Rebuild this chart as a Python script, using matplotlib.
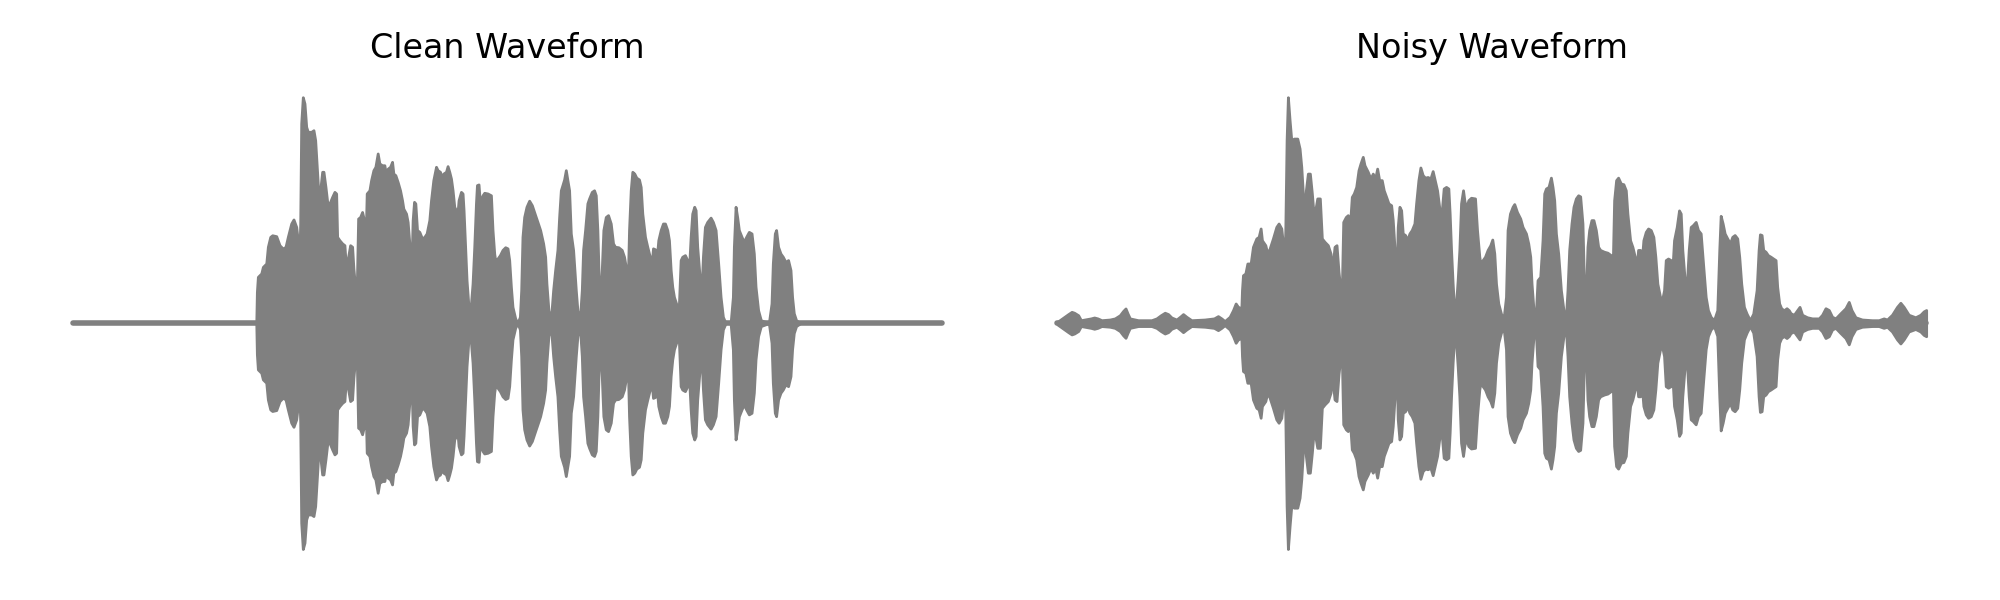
import numpy as np
import matplotlib
matplotlib.use("Agg")
import matplotlib.pyplot as plt

# envelope of each waveform: (time in s, peak amplitude)
clean_env = [
    (0.0, 0), (1.837, 0), (1.843, 0.138), (1.853, 0.205), (1.887, 0.220), (1.903, 0.249),
    (1.937, 0.264), (1.953, 0.338), (1.977, 0.382), (1.997, 0.389), (2.037, 0.385), (2.07, 0.345),
    (2.103, 0.330), (2.13, 0.338), (2.153, 0.382), (2.187, 0.441), (2.21, 0.459), (2.237, 0.426),
    (2.253, 0.367), (2.263, 0.212), (2.277, 0.441), (2.287, 0.884), (2.303, 1.0), (2.32, 0.972),
    (2.337, 0.869), (2.353, 0.847), (2.387, 0.847), (2.41, 0.854), (2.427, 0.810), (2.437, 0.736),
    (2.453, 0.618), (2.463, 0.500), (2.477, 0.588), (2.497, 0.670), (2.51, 0.670), (2.53, 0.603),
    (2.553, 0.515), (2.57, 0.530), (2.597, 0.559), (2.62, 0.581), (2.637, 0.574), (2.647, 0.382),
    (2.67, 0.367), (2.697, 0.353), (2.72, 0.345), (2.737, 0.235), (2.757, 0.294), (2.777, 0.345),
    (2.797, 0.338), (2.81, 0.242), (2.83, 0.146), (2.843, 0.146), (2.857, 0.463), (2.877, 0.470),
    (2.897, 0.492), (2.92, 0.448), (2.937, 0.463), (2.943, 0.574), (2.97, 0.588), (2.987, 0.633),
    (3.01, 0.677), (3.03, 0.692), (3.053, 0.751), (3.07, 0.707), (3.097, 0.699), (3.12, 0.699),
    (3.137, 0.655), (3.153, 0.684), (3.177, 0.692), (3.197, 0.714), (3.21, 0.662), (3.23, 0.655),
    (3.253, 0.625), (3.277, 0.588), (3.297, 0.544), (3.31, 0.507), (3.337, 0.485), (3.353, 0.448),
    (3.37, 0.353), (3.387, 0.183), (3.403, 0.456), (3.417, 0.537), (3.43, 0.530), (3.447, 0.412),
    (3.47, 0.404), (3.497, 0.375), (3.52, 0.382), (3.543, 0.397), (3.57, 0.456), (3.587, 0.544),
    (3.61, 0.633), (3.637, 0.692), (3.653, 0.677), (3.677, 0.670), (3.697, 0.640), (3.71, 0.662),
    (3.737, 0.670), (3.753, 0.695), (3.77, 0.670), (3.787, 0.640), (3.803, 0.588), (3.82, 0.515),
    (3.837, 0.500), (3.853, 0.492), (3.863, 0.544), (3.887, 0.581), (3.903, 0.574), (3.913, 0.500),
    (3.93, 0.324), (3.943, 0.190), (3.96, 0.087), (3.97, 0.028), (3.987, 0.087), (4.003, 0.175),
    (4.02, 0.338), (4.037, 0.530), (4.047, 0.611), (4.063, 0.614), (4.077, 0.530), (4.087, 0.544),
    (4.103, 0.566), (4.12, 0.577), (4.153, 0.574), (4.187, 0.566), (4.203, 0.412), (4.22, 0.308),
    (4.237, 0.257), (4.253, 0.286), (4.277, 0.301), (4.303, 0.324), (4.33, 0.336), (4.353, 0.331),
    (4.37, 0.279), (4.387, 0.161), (4.403, 0.072), (4.43, 0.021), (4.453, 0.0), (4.477, 0.028),
    (4.49, 0.146), (4.503, 0.382), (4.52, 0.470), (4.543, 0.515), (4.57, 0.542), (4.597, 0.522),
    (4.63, 0.478), (4.653, 0.448), (4.68, 0.412), (4.71, 0.353), (4.73, 0.294), (4.743, 0.175),
    (4.763, 0.057), (4.787, 0.013), (4.81, 0.146), (4.83, 0.235), (4.853, 0.324), (4.87, 0.470),
    (4.887, 0.588), (4.903, 0.611), (4.92, 0.636), (4.937, 0.677), (4.953, 0.633), (4.97, 0.588),
    (4.987, 0.397), (5.01, 0.324), (5.037, 0.146), (5.053, 0.057), (5.077, 0.013), (5.097, 0.146),
    (5.11, 0.324), (5.13, 0.412), (5.153, 0.530), (5.17, 0.552), (5.197, 0.581), (5.22, 0.588),
    (5.237, 0.566), (5.253, 0.412), (5.27, 0.146), (5.283, 0.116), (5.297, 0.235), (5.313, 0.412),
    (5.337, 0.470), (5.36, 0.478), (5.387, 0.441), (5.41, 0.353), (5.43, 0.338), (5.463, 0.336),
    (5.497, 0.324), (5.52, 0.294), (5.543, 0.235), (5.557, 0.175), (5.57, 0.412), (5.587, 0.588),
    (5.603, 0.670), (5.623, 0.662), (5.643, 0.644), (5.67, 0.636), (5.687, 0.603), (5.703, 0.485),
    (5.73, 0.382), (5.753, 0.338), (5.77, 0.308), (5.797, 0.264), (5.81, 0.331), (5.83, 0.327),
    (5.843, 0.264), (5.863, 0.367), (5.887, 0.412), (5.91, 0.441), (5.93, 0.441), (5.953, 0.412),
    (5.97, 0.367), (5.987, 0.235), (6.003, 0.161), (6.02, 0.116), (6.053, 0.072), (6.07, 0.087),
    (6.087, 0.279), (6.103, 0.294), (6.13, 0.301), (6.153, 0.279), (6.17, 0.235), (6.187, 0.382),
    (6.203, 0.485), (6.223, 0.515), (6.237, 0.500), (6.253, 0.338), (6.277, 0.205), (6.297, 0.161),
    (6.31, 0.294), (6.33, 0.426), (6.353, 0.448), (6.387, 0.467), (6.41, 0.448), (6.437, 0.412),
    (6.463, 0.264), (6.487, 0.116), (6.51, 0.028), (6.537, 0.0), (6.587, 0.0), (6.61, 0.116),
    (6.62, 0.338), (6.637, 0.515), (6.653, 0.470), (6.67, 0.412), (6.697, 0.382), (6.72, 0.360),
    (6.743, 0.382), (6.77, 0.404), (6.797, 0.397), (6.82, 0.308), (6.837, 0.161), (6.863, 0.057),
    (6.89, 0.013), (6.97, 0.0), (6.997, 0.087), (7.01, 0.264), (7.03, 0.397), (7.043, 0.412),
    (7.063, 0.338), (7.087, 0.308), (7.11, 0.294), (7.137, 0.271), (7.163, 0.279), (7.187, 0.235),
    (7.203, 0.116), (7.22, 0.044), (7.243, 0.013), (7.287, 0.0), (8.70, 0.0),
]

noisy_env = [
    (0.0, 0.006), (0.108, 0.040), (0.142, 0.050), (0.168, 0.046), (0.208, 0.035), (0.235, 0.013),
    (0.335, 0.021), (0.368, 0.025), (0.402, 0.021), (0.442, 0.013), (0.525, 0.016), (0.575, 0.021),
    (0.625, 0.035), (0.658, 0.054), (0.682, 0.065), (0.702, 0.043), (0.725, 0.021), (0.808, 0.013),
    (0.942, 0.013), (0.992, 0.021), (1.035, 0.035), (1.075, 0.046), (1.108, 0.040), (1.142, 0.025),
    (1.192, 0.016), (1.235, 0.031), (1.258, 0.040), (1.292, 0.028), (1.342, 0.013), (1.475, 0.016),
    (1.568, 0.021), (1.608, 0.031), (1.642, 0.021), (1.675, 0.009), (1.725, 0.028), (1.758, 0.057),
    (1.785, 0.087), (1.808, 0.072), (1.842, 0.066), (1.848, 0.146), (1.858, 0.212), (1.882, 0.220),
    (1.902, 0.264), (1.935, 0.264), (1.958, 0.338), (1.992, 0.375), (2.015, 0.382), (2.035, 0.419),
    (2.048, 0.367), (2.082, 0.345), (2.102, 0.308), (2.125, 0.330), (2.158, 0.375), (2.192, 0.426),
    (2.215, 0.441), (2.242, 0.419), (2.258, 0.353), (2.268, 0.205), (2.282, 0.412), (2.295, 0.810),
    (2.308, 1.0), (2.325, 0.898), (2.342, 0.810), (2.368, 0.817), (2.402, 0.817), (2.425, 0.773),
    (2.442, 0.692), (2.458, 0.574), (2.475, 0.500), (2.488, 0.588), (2.508, 0.662), (2.528, 0.662),
    (2.548, 0.574), (2.562, 0.500), (2.582, 0.500), (2.602, 0.552), (2.628, 0.552), (2.648, 0.375),
    (2.675, 0.360), (2.708, 0.345), (2.735, 0.308), (2.752, 0.235), (2.775, 0.338), (2.795, 0.345),
    (2.815, 0.227), (2.835, 0.146), (2.848, 0.146), (2.862, 0.448), (2.888, 0.470), (2.908, 0.478),
    (2.928, 0.426), (2.948, 0.559), (2.968, 0.574), (2.992, 0.603), (3.015, 0.677), (3.035, 0.707),
    (3.058, 0.736), (3.075, 0.699), (3.108, 0.670), (3.135, 0.640), (3.158, 0.662), (3.182, 0.640),
    (3.202, 0.684), (3.222, 0.633), (3.248, 0.633), (3.268, 0.588), (3.292, 0.559), (3.315, 0.530),
    (3.342, 0.522), (3.358, 0.456), (3.375, 0.338), (3.395, 0.175), (3.408, 0.426), (3.425, 0.515),
    (3.442, 0.500), (3.458, 0.397), (3.482, 0.390), (3.502, 0.367), (3.525, 0.397), (3.548, 0.412),
    (3.575, 0.441), (3.592, 0.530), (3.615, 0.633), (3.635, 0.689), (3.658, 0.655), (3.682, 0.644),
    (3.708, 0.647), (3.735, 0.640), (3.758, 0.673), (3.775, 0.640), (3.802, 0.588), (3.825, 0.507),
    (3.848, 0.492), (3.868, 0.596), (3.892, 0.603), (3.915, 0.596), (3.928, 0.485), (3.942, 0.324),
    (3.958, 0.175), (3.975, 0.050), (3.992, 0.087), (4.008, 0.190), (4.025, 0.324), (4.042, 0.530),
    (4.062, 0.588), (4.075, 0.544), (4.092, 0.507), (4.115, 0.544), (4.142, 0.555), (4.182, 0.552),
    (4.202, 0.412), (4.225, 0.294), (4.242, 0.249), (4.258, 0.279), (4.282, 0.294), (4.308, 0.324),
    (4.335, 0.345), (4.355, 0.370), (4.375, 0.308), (4.392, 0.175), (4.415, 0.087), (4.442, 0.042),
    (4.468, 0.021), (4.492, 0.116), (4.508, 0.412), (4.532, 0.485), (4.558, 0.515), (4.575, 0.527),
    (4.602, 0.492), (4.635, 0.463), (4.658, 0.426), (4.692, 0.397), (4.715, 0.353), (4.735, 0.294),
    (4.748, 0.175), (4.768, 0.057), (4.792, 0.050), (4.808, 0.190), (4.835, 0.205), (4.858, 0.367),
    (4.875, 0.574), (4.892, 0.596), (4.918, 0.603), (4.942, 0.644), (4.958, 0.603), (4.975, 0.544),
    (4.992, 0.397), (5.015, 0.308), (5.042, 0.146), (5.068, 0.057), (5.092, 0.028), (5.108, 0.146),
    (5.125, 0.324), (5.148, 0.441), (5.168, 0.515), (5.192, 0.552), (5.215, 0.566), (5.235, 0.561),
    (5.258, 0.441), (5.275, 0.146), (5.292, 0.116), (5.308, 0.338), (5.325, 0.412), (5.348, 0.456),
    (5.368, 0.456), (5.392, 0.412), (5.415, 0.338), (5.435, 0.324), (5.475, 0.316), (5.508, 0.312),
    (5.542, 0.301), (5.558, 0.190), (5.575, 0.544), (5.595, 0.633), (5.615, 0.644), (5.642, 0.618),
    (5.668, 0.615), (5.692, 0.588), (5.708, 0.485), (5.735, 0.367), (5.758, 0.338), (5.782, 0.294),
    (5.802, 0.257), (5.815, 0.324), (5.835, 0.324), (5.848, 0.257), (5.868, 0.367), (5.892, 0.404),
    (5.915, 0.419), (5.942, 0.412), (5.968, 0.382), (5.988, 0.294), (6.008, 0.175), (6.035, 0.116),
    (6.058, 0.109), (6.075, 0.146), (6.092, 0.279), (6.115, 0.286), (6.142, 0.279), (6.158, 0.235),
    (6.175, 0.367), (6.202, 0.426), (6.225, 0.499), (6.242, 0.485), (6.258, 0.324), (6.282, 0.190),
    (6.302, 0.161), (6.322, 0.324), (6.342, 0.426), (6.362, 0.433), (6.392, 0.448), (6.415, 0.412),
    (6.442, 0.397), (6.468, 0.249), (6.492, 0.116), (6.515, 0.057), (6.542, 0.028), (6.575, 0.013),
    (6.608, 0.057), (6.628, 0.324), (6.642, 0.475), (6.662, 0.441), (6.682, 0.397), (6.708, 0.375),
    (6.735, 0.353), (6.758, 0.382), (6.782, 0.390), (6.808, 0.375), (6.828, 0.294), (6.848, 0.175),
    (6.875, 0.072), (6.902, 0.042), (6.935, 0.013), (6.968, 0.042), (7.002, 0.146), (7.022, 0.324),
    (7.035, 0.393), (7.052, 0.390), (7.068, 0.324), (7.092, 0.316), (7.115, 0.301), (7.142, 0.294),
    (7.168, 0.286), (7.192, 0.279), (7.208, 0.161), (7.228, 0.087), (7.248, 0.066), (7.275, 0.057),
    (7.302, 0.066), (7.325, 0.057), (7.342, 0.044), (7.375, 0.037), (7.432, 0.072), (7.458, 0.037),
    (7.508, 0.026), (7.558, 0.021), (7.625, 0.021), (7.658, 0.037), (7.692, 0.066), (7.725, 0.058),
    (7.758, 0.028), (7.792, 0.021), (7.842, 0.044), (7.892, 0.066), (7.925, 0.094), (7.952, 0.058),
    (7.992, 0.026), (8.058, 0.016), (8.158, 0.013), (8.225, 0.013), (8.275, 0.021), (8.308, 0.016),
    (8.358, 0.037), (8.408, 0.072), (8.442, 0.090), (8.475, 0.072), (8.525, 0.037), (8.592, 0.026),
    (8.642, 0.037), (8.675, 0.052), (8.70, 0.058),
]

titles = ["Clean Waveform", "Noisy Waveform"]

fig = plt.figure(figsize=(10, 3), dpi=200)
ax_left = fig.add_axes([0.0147, 0.0473, 0.4778, 0.8283])
ax_right = fig.add_axes([0.507, 0.0473, 0.4778, 0.8283])

for ax, env, title in zip([ax_left, ax_right], [clean_env, noisy_env], titles):
    t, amp = np.array(env).T
    ax.fill_between(t, -amp, amp, facecolor="gray", edgecolor="gray", linewidth=1.0)
    ax.plot(t, 0 * amp, color="gray", linewidth=2.0, solid_capstyle="round")
    ax.set_xlim(t[0] - 0.05 * (t[-1] - t[0]), t[-1] + 0.05 * (t[-1] - t[0]))
    ax.set_ylim(-1.1, 1.1)
    ax.set_title(title, fontsize=12)
    ax.axis("off")

fig.savefig("out.png", dpi=200)
